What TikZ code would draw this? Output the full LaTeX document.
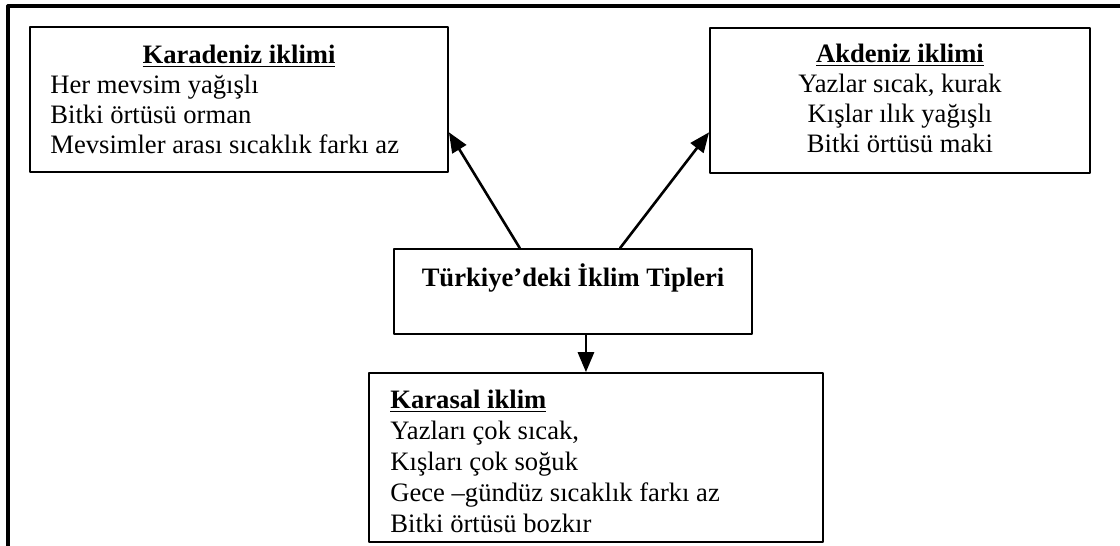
\documentclass[tikz,border=0pt]{standalone}
\usepackage{fontspec}
\setmainfont{Liberation Serif}
\usetikzlibrary{arrows,calc}

\begin{document}
\begin{tikzpicture}[line cap=round,line join=round,>=triangle 45,x=0.5pt,y=-0.5pt,
	kutu/.style={draw,line width=1pt,inner sep=0pt},
	yazi/.style={inner sep=0pt,font=\fontsize{13.3pt}{15pt}\selectfont},
	ok/.style={->,line width=1.3pt}]
	\useasboundingbox (0,0) rectangle (1120,546);
	% dis cerceve
	\draw [line width=1.6pt,line cap=butt] (8,546) -- (8,6) -- (1120,6);
	% kutular
	\node[kutu,minimum width=209pt,minimum height=72.5pt] (karadeniz) at (239,99.5) {};
	\node[kutu,minimum width=190pt,minimum height=72.5pt] (akdeniz) at (900,100.5) {};
	\node[kutu,minimum width=179pt,minimum height=42.5pt] (merkez) at (573,291.5) {};
	\node[kutu,minimum width=227pt,minimum height=84.5pt] (karasal) at (596,457.5) {};
	% yazilar (base = son satir)
	\node[yazi,anchor=base] (karadenizbaslik) at (239,63) {\underline{\textbf{Karadeniz iklimi}}};
	\node[yazi,anchor=base west,align=left] (karadenizyazi) at (50,153) {Her mevsim yağışlı\\Bitki örtüsü orman\\Mevsimler arası sıcaklık farkı az};
	\node[yazi,anchor=base,align=center] (akdenizyazi) at (900,152) {\underline{\textbf{Akdeniz iklimi}}\\Yazlar sıcak, kurak\\Kışlar ılık yağışlı\\Bitki örtüsü maki};
	\node[yazi,anchor=base] (merkezyazi) at (573,286) {\textbf{Türkiye’deki İklim Tipleri}};
	\node[yazi,anchor=base west,align=left,font=\fontsize{13.3pt}{15.5pt}\selectfont] (karasalyazi) at (390,532) {\underline{\textbf{Karasal iklim}}\\Yazları çok sıcak,\\Kışları çok soğuk\\Gece –gündüz sıcaklık farkı az\\Bitki örtüsü bozkır};
	% oklar
	\draw [ok] ($(merkez.north west)!0.352!(merkez.north east)$) -- ($(karadeniz.north east)!0.724!(karadeniz.south east)$);
	\draw [ok] ($(merkez.north west)!0.631!(merkez.north east)$) -- ($(akdeniz.north west)!0.717!(akdeniz.south west)$);
	\coordinate (asagi) at ($(merkez.south west)!0.536!(merkez.south east)$);
	\draw [ok] (asagi) -- (asagi |- karasal.north);
\end{tikzpicture}
\end{document}
